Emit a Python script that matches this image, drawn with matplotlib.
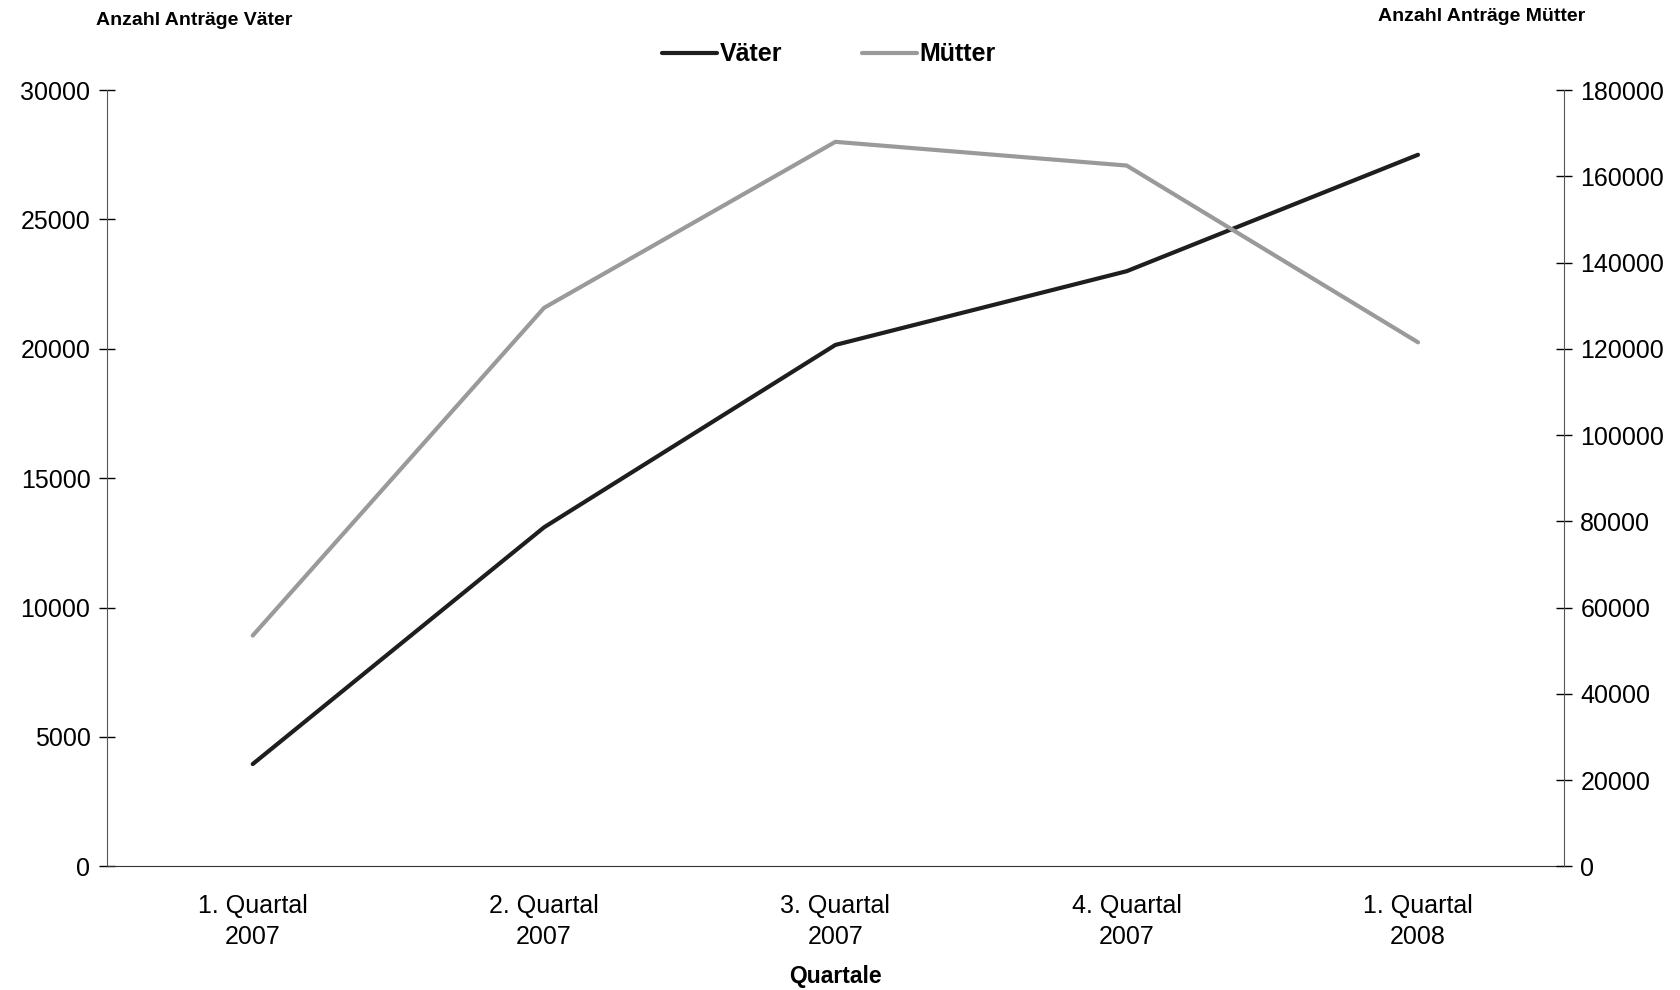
import matplotlib.pyplot as plt

plt.rcParams['font.family'] = ['Liberation Sans', 'DejaVu Sans']

# Daten
quartale = ["1. Quartal\n2007", "2. Quartal\n2007", "3. Quartal\n2007",
            "4. Quartal\n2007", "1. Quartal\n2008"]
vaeter = [3950, 13100, 20150, 23000, 27500]
muetter = [53500, 129500, 168000, 162500, 121500]

fig = plt.figure(figsize=(16.81, 9.90), dpi=100)
ax = fig.add_axes([0.0637, 0.125, 0.8665, 0.784])
ax2 = ax.twinx()

x = range(len(quartale))
l1, = ax.plot(x, vaeter, color="#1e1e1e", lw=3, solid_capstyle="round", label="Väter")
l2, = ax2.plot(x, muetter, color="#9a9a9a", lw=3, solid_capstyle="round", label="Mütter")

ax.set_xlim(-0.5, len(quartale) - 0.5)
ax.set_ylim(0, 30000)
ax2.set_ylim(0, 180000)
ax.set_yticks(range(0, 30001, 5000))
ax2.set_yticks(range(0, 180001, 20000))
ax.set_xticks(list(x))
ax.set_xticklabels(quartale, fontsize=18, linespacing=1.35)

ax.tick_params(axis="y", direction="inout", length=12, width=1, labelsize=18, pad=6)
ax2.tick_params(axis="y", direction="inout", length=12, width=1, labelsize=18, pad=6)
ax.tick_params(axis="x", length=0, pad=20)

for a in (ax, ax2):
    a.spines["top"].set_visible(False)
    a.spines["left"].set_color("#555555")
    a.spines["right"].set_color("#555555")
    a.spines["bottom"].set_color("#333333")
ax.spines["right"].set_visible(False)
ax2.spines["left"].set_visible(False)
ax2.spines["bottom"].set_visible(False)

# Achsentitel
fig.text(0.497, 0.014, "Quartale", fontsize=16.5, fontweight="bold", ha="center", va="center")
fig.text(0.057, 0.988, "Anzahl Anträge Väter", fontsize=14, fontweight="bold", va="top")
fig.text(0.943, 0.992, "Anzahl Anträge Mütter", fontsize=14, fontweight="bold", va="top", ha="right")

fig.legend(handles=[l1, l2], loc="center", bbox_to_anchor=(0.493, 0.945), ncol=2,
           frameon=False, handlelength=2.2, handletextpad=0.1, columnspacing=3.2,
           prop={"size": 18, "weight": "bold"})

plt.savefig("out.png", dpi=100)
